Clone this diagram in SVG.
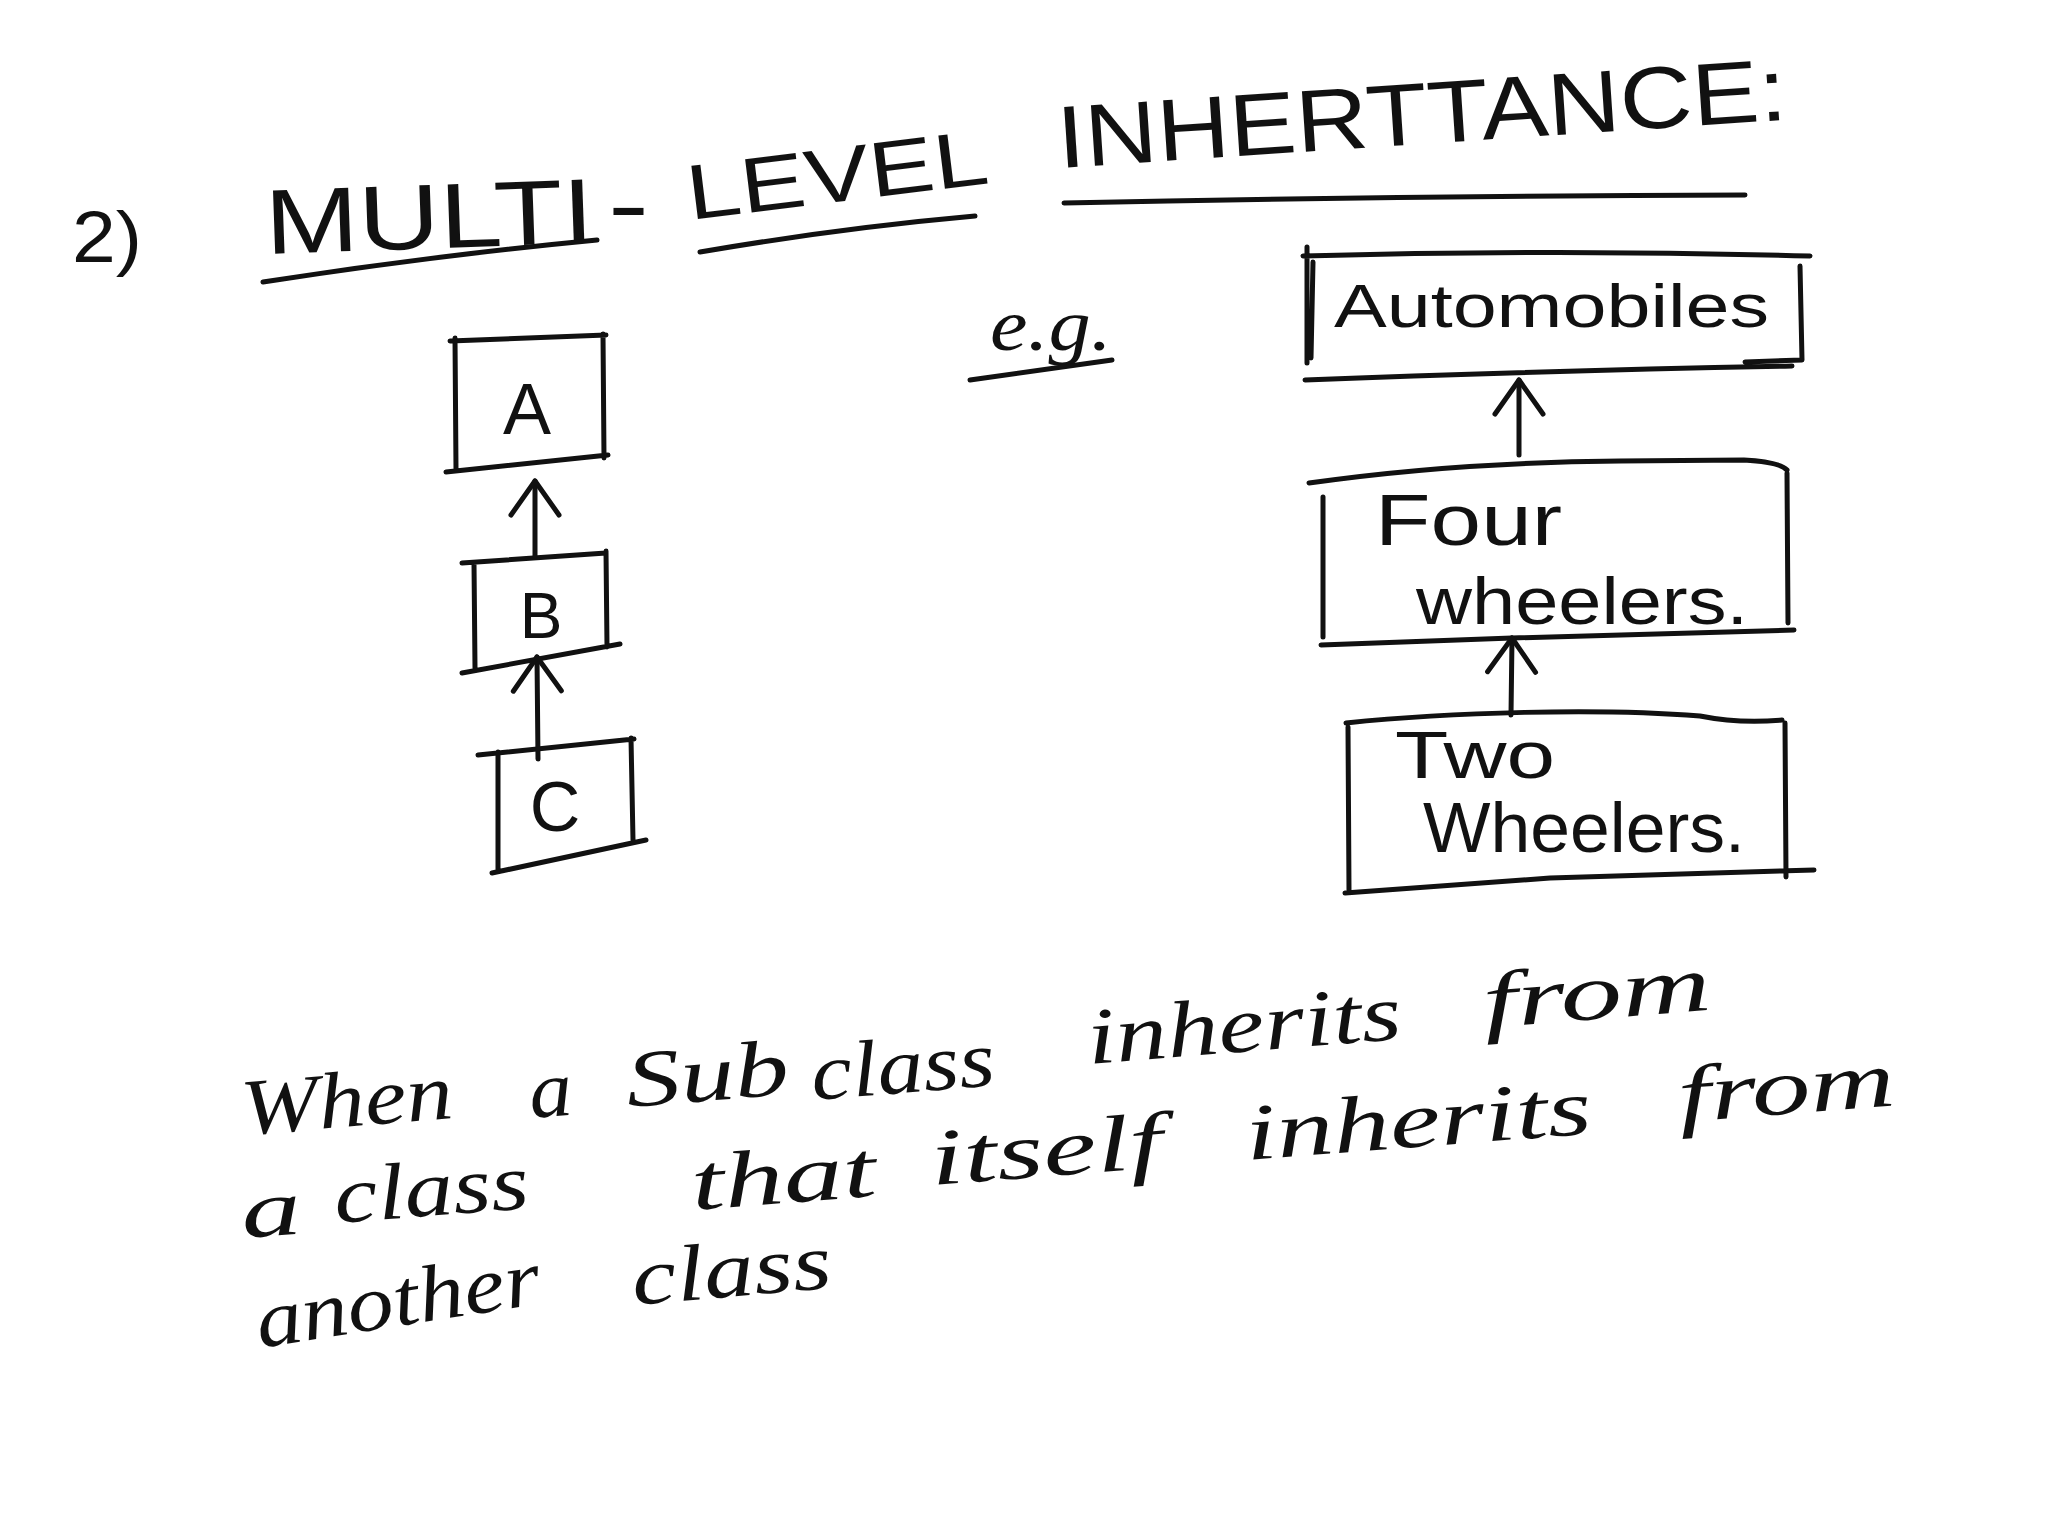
<svg xmlns="http://www.w3.org/2000/svg" width="2048" height="1536" viewBox="0 0 2048 1536">
<defs>
<style>
.ink{fill:none;stroke:#111;stroke-width:5;stroke-linecap:round;stroke-linejoin:round}
.pr{font-family:"Liberation Sans",Arial,sans-serif;fill:#111}
.hw{font-family:"Liberation Serif","Times New Roman",serif;font-style:italic;fill:#111}
</style>
<marker id="ah" viewBox="-40 -28 46 56" refX="0" refY="0" markerWidth="46" markerHeight="56" markerUnits="userSpaceOnUse" orient="auto">
<path d="M-34 -24 L0 0 L-34 24" fill="none" stroke="#111" stroke-width="5" stroke-linecap="round" stroke-linejoin="round"/>
</marker>
</defs>
<rect width="2048" height="1536" fill="#fff"/>

<g id="title">
<text class="pr" x="72" y="262" font-size="72" textLength="70" lengthAdjust="spacingAndGlyphs">2)</text>
<text class="pr" x="266" y="254" font-size="92" textLength="329" lengthAdjust="spacingAndGlyphs" transform="rotate(-2 266 254)">MULTI</text>
<text class="pr" x="608" y="236" font-size="90" textLength="41" lengthAdjust="spacingAndGlyphs">-</text>
<text class="pr" x="690" y="220" font-size="78" textLength="303" lengthAdjust="spacingAndGlyphs" transform="rotate(-7 690 220)">LEVEL</text>
<text class="pr" x="1059" y="168" font-size="88" textLength="731" lengthAdjust="spacingAndGlyphs" transform="rotate(-3.8 1059 168)">INHERTTANCE:</text>
<path class="ink" d="M263 282 Q430 256 597 240"/>
<path class="ink" d="M700 252 Q840 228 975 216"/>
<path class="ink" d="M1064 203 Q1400 196 1745 195"/>
<text class="hw" x="990" y="350" font-size="74" textLength="122" lengthAdjust="spacingAndGlyphs">e.g.</text>
<path class="ink" d="M970 380 L1112 360"/>
</g>

<g id="node-A">
<path class="ink" d="M450 341 L606 335 M455 338 L456 470 M603 334 L604 458 M446 472 L608 455"/>
<text class="pr" x="527" y="434" font-size="72" text-anchor="middle">A</text>
</g>
<g id="node-B">
<path class="ink" d="M462 563 L606 553 M474 563 L475 668 M606 551 L607 647 M462 673 L620 644"/>
<text class="pr" x="541" y="638" font-size="64" text-anchor="middle">B</text>
</g>
<g id="node-C">
<path class="ink" d="M478 755 L634 739 M498 752 L498 871 M631 738 L633 840 M492 873 L646 840"/>
<text class="pr" x="555" y="831" font-size="70" text-anchor="middle">C</text>
</g>

<g id="node-automobiles">
<path class="ink" d="M1303 256 Q1560 249 1810 256 M1307 247 L1307 363 M1313 262 L1311 358 M1800 266 L1802 360 L1745 362 M1305 380 Q1530 371 1792 366"/>
<text class="pr" x="1334" y="327" font-size="62" textLength="435" lengthAdjust="spacingAndGlyphs">Automobiles</text>
</g>
<g id="node-four-wheelers">
<path class="ink" d="M1309 483 C1400 470 1500 462 1620 461 L1744 460 Q1780 462 1787 470 M1323 497 L1323 637 M1787 473 L1788 623 M1321 645 L1512 638 L1794 630"/>
<text class="pr" x="1375" y="545" font-size="72" textLength="187" lengthAdjust="spacingAndGlyphs">Four</text>
<text class="pr" x="1416" y="624" font-size="66" textLength="332" lengthAdjust="spacingAndGlyphs">wheelers.</text>
</g>
<g id="node-two-wheelers">
<path class="ink" d="M1346 723 C1450 712 1600 708 1700 716 Q1740 724 1782 720 M1348 727 L1349 890 M1785 723 L1786 877 M1345 893 L1550 878 L1814 870"/>
<text class="pr" x="1395" y="778" font-size="66" textLength="160" lengthAdjust="spacingAndGlyphs">Two</text>
<text class="pr" x="1423" y="852" font-size="70" textLength="322" lengthAdjust="spacingAndGlyphs">Wheelers.</text>
</g>

<g id="connectors">
<path class="ink" d="M535 556 L535 481" marker-end="url(#ah)"/>
<path class="ink" d="M538 759 L537 657" marker-end="url(#ah)"/>
<path class="ink" d="M1519 455 L1519 380" marker-end="url(#ah)"/>
<path class="ink" d="M1511 715 L1512 638" marker-end="url(#ah)"/>
</g>

<g id="definition">
<text class="hw" x="243" y="1135" font-size="80" textLength="212" lengthAdjust="spacingAndGlyphs" transform="rotate(-4.6 243 1135)">When</text>
<text class="hw" x="531" y="1118" font-size="80" textLength="43" lengthAdjust="spacingAndGlyphs" transform="rotate(-4.6 531 1118)">a</text>
<text class="hw" x="628" y="1107" font-size="80" textLength="163" lengthAdjust="spacingAndGlyphs" transform="rotate(-4.6 628 1107)">Sub</text>
<text class="hw" x="813" y="1100" font-size="80" textLength="184" lengthAdjust="spacingAndGlyphs" transform="rotate(-4.6 813 1100)">class</text>
<text class="hw" x="1089" y="1064" font-size="80" textLength="315" lengthAdjust="spacingAndGlyphs" transform="rotate(-4.6 1089 1064)">inherits</text>
<text class="hw" x="1485" y="1028" font-size="80" textLength="228" lengthAdjust="spacingAndGlyphs" transform="rotate(-4.6 1485 1028)">from</text>

<text class="hw" x="243" y="1238" font-size="80" textLength="60" lengthAdjust="spacingAndGlyphs" transform="rotate(-4.4 243 1238)">a</text>
<text class="hw" x="336" y="1223" font-size="80" textLength="195" lengthAdjust="spacingAndGlyphs" transform="rotate(-4.4 336 1223)">class</text>
<text class="hw" x="693" y="1210" font-size="80" textLength="185" lengthAdjust="spacingAndGlyphs" transform="rotate(-4.4 693 1210)">that</text>
<text class="hw" x="932" y="1185" font-size="80" textLength="233" lengthAdjust="spacingAndGlyphs" transform="rotate(-4.4 932 1185)">itself</text>
<text class="hw" x="1247" y="1160" font-size="80" textLength="347" lengthAdjust="spacingAndGlyphs" transform="rotate(-4.4 1247 1160)">inherits</text>
<text class="hw" x="1680" y="1122" font-size="80" textLength="217" lengthAdjust="spacingAndGlyphs" transform="rotate(-4.4 1680 1122)">from</text>

<text class="hw" x="260" y="1348" font-size="80" textLength="287" lengthAdjust="spacingAndGlyphs" transform="rotate(-9 260 1348)">another</text>
<text class="hw" x="634" y="1305" font-size="80" textLength="200" lengthAdjust="spacingAndGlyphs" transform="rotate(-5 634 1305)">class</text>
</g>
</svg>
